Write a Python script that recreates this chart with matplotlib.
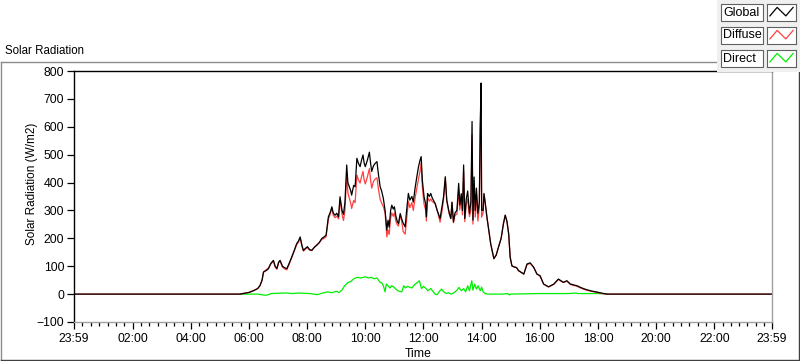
import numpy as np
import matplotlib
matplotlib.use("Agg")
import matplotlib.pyplot as plt
from matplotlib.lines import Line2D
from matplotlib.patches import Rectangle

plt.rcParams['font.family'] = ['Liberation Sans', 'DejaVu Sans']

# time of day in hours (23:59 of previous day = -1/60)
t_rad = [-0.017, 5.69, 5.85, 6.0, 6.15, 6.3, 6.38, 6.45, 6.5, 6.6, 6.67, 6.75, 6.84, 6.9, 6.96,
         7.02, 7.07, 7.15, 7.22, 7.3, 7.38, 7.47, 7.55, 7.64, 7.7, 7.76, 7.82, 7.87, 7.95,
         8.01, 8.08, 8.16, 8.25, 8.33, 8.42, 8.5, 8.58, 8.65, 8.73, 8.8, 8.85, 8.9, 8.96,
         9.02, 9.08, 9.13, 9.2, 9.25, 9.3, 9.36, 9.4, 9.45, 9.5, 9.53, 9.6, 9.65, 9.71, 9.76,
         9.82, 9.87, 9.92, 9.96, 10.0, 10.07, 10.14, 10.18, 10.22, 10.28, 10.34, 10.4, 10.45,
         10.51, 10.56, 10.62, 10.68, 10.74, 10.78, 10.82, 10.87, 10.91, 10.96, 11.0, 11.05,
         11.1, 11.14, 11.2, 11.25, 11.3, 11.37, 11.42, 11.48, 11.53, 11.6, 11.65, 11.71,
         11.77, 11.83, 11.88, 11.92, 11.96, 12.02, 12.07, 12.1, 12.14, 12.2, 12.25, 12.3,
         12.4, 12.47, 12.51, 12.57, 12.63, 12.69, 12.75, 12.8, 12.85, 12.89, 12.94, 12.98,
         13.03, 13.08, 13.15, 13.21, 13.25, 13.3, 13.34, 13.38, 13.42, 13.47, 13.52, 13.58,
         13.63, 13.67, 13.7, 13.74, 13.78, 13.82, 13.87, 13.92, 13.95, 13.98, 14.0, 14.05,
         14.08, 14.12, 14.18, 14.31, 14.42, 14.5, 14.58, 14.67, 14.75, 14.81, 14.87, 14.93,
         14.98, 15.04, 15.1, 15.2, 15.27, 15.33, 15.45, 15.56, 15.67, 15.79, 15.9, 16.01,
         16.13, 16.3, 16.48, 16.64, 16.75, 16.81, 16.93, 17.05, 17.16, 17.28, 17.4, 17.52,
         17.64, 17.78, 17.98, 18.15, 18.31, 23.983]

global_rad = [0, 0, 3, 6, 12, 20, 31, 50, 79, 85, 91, 110, 121, 100, 92,
              115, 121, 100, 95, 91, 110, 133, 155, 181, 190, 205, 175, 157, 165,
              170, 160, 157, 168, 175, 185, 199, 205, 211, 277, 295, 313, 290, 283,
              290, 277, 349, 300, 286, 330, 463, 400, 385, 370, 355, 390, 385, 487, 470,
              457, 480, 499, 470, 457, 480, 509, 470, 440, 460, 469, 475, 430,
              385, 370, 343, 300, 229, 265, 240, 300, 319, 305, 313, 280,
              260, 253, 289, 270, 255, 241, 300, 361, 337, 350, 330, 379,
              420, 457, 480, 493, 409, 349, 325, 277, 361, 350, 361, 345,
              325, 300, 289, 271, 310, 349, 421, 337, 310, 289, 271, 330,
              259, 290, 301, 397, 320, 360, 300, 463, 271, 340, 370, 290,
              330, 619, 265, 420, 300, 380, 290, 330, 595, 757, 301, 300,
              361, 330, 277, 181, 127, 140, 169, 200, 253, 283, 260, 216,
              132, 102, 98, 95, 84, 80, 72, 108, 112, 96, 72, 66,
              36, 26, 36, 54, 46, 42, 48, 36, 33, 30, 24, 19,
              15, 11, 7, 3, 0, 0]

diffuse_rad = [0, 0, 3, 6, 12, 20, 31, 50, 80, 88, 94, 108, 118, 97, 89,
               112, 118, 97, 91, 87, 107, 131, 152, 177, 186, 201, 172, 154, 162,
               167, 158, 156, 169, 177, 185, 196, 200, 205, 269, 289, 308, 283, 274,
               280, 270, 340, 285, 264, 300, 430, 364, 344, 325, 307, 336, 328, 427, 411,
               398, 421, 440, 409, 395, 420, 450, 410, 380, 404, 413, 417, 377,
               340, 327, 313, 292, 205, 230, 214, 272, 291, 279, 291, 262,
               248, 244, 282, 262, 225, 215, 270, 332, 310, 328, 300, 344,
               380, 414, 440, 470, 385, 322, 303, 262, 348, 333, 341, 332,
               325, 302, 284, 258, 292, 339, 415, 335, 305, 286, 271, 328,
               256, 282, 287, 373, 302, 348, 284, 443, 260, 322, 340, 278,
               300, 571, 251, 388, 276, 362, 262, 310, 583, 735, 276, 292,
               357, 328, 277, 181, 127, 140, 169, 200, 253, 283, 262, 214,
               134, 100, 98, 95, 84, 80, 72, 106, 110, 96, 72, 64,
               36, 26, 35, 53, 45, 42, 46, 35, 31, 28, 22, 17,
               13, 10, 6, 2, 0, 0]

t_direct = [5.69, 6.3, 6.55, 6.65, 6.75, 7.0, 7.3, 7.5, 7.7, 7.9, 8.1, 8.35, 8.5, 8.7, 8.85,
            9.0, 9.1, 9.2, 9.29, 9.41, 9.5, 9.59, 9.71, 9.85, 10.0, 10.1, 10.2, 10.3, 10.4,
            10.51, 10.57, 10.62, 10.68, 10.72, 10.78, 10.85, 10.9, 10.97, 11.05, 11.12, 11.18,
            11.25, 11.32, 11.38, 11.45, 11.52, 11.6, 11.7, 11.8, 11.86, 11.93, 12.0, 12.07,
            12.15, 12.25, 12.32, 12.4, 12.47, 12.55, 12.62, 12.7, 12.78, 12.85, 12.95, 13.05,
            13.15, 13.22, 13.3, 13.38, 13.45, 13.52, 13.58, 13.66, 13.7, 13.76, 13.82, 13.88,
            13.95, 14.0, 14.05, 14.12, 14.2, 14.4, 14.7, 14.9, 14.95, 15.0, 15.5, 16.0, 17.0,
            17.25, 17.3, 18.0, 18.3]
direct_rad = [0, 0, -4, -3, 2, 3, 4, 2, 4, 3, 2, -2, 3, 8, 5,
              10, 6, 15, 30, 42, 45, 54, 60, 58, 62, 58, 60, 55, 58,
              42, 40, 30, 8, 36, 30, 22, 30, 26, 18, 12, 10,
              8, 30, 22, 28, 25, 22, 35, 42, 48, 20, 28, 22,
              12, 20, 10, 0, -2, 10, 18, 8, 2, 5, 0, 5,
              14, 24, 12, 20, 8, 30, 12, 48, 14, 36, 18, 30,
              12, 25, 8, 2, 0, 0, 0, 2, -3, 0, 1, 2, 2,
              4, 2, 2, 1]

major_hours = [-1 / 60, 2, 4, 6, 8, 10, 12, 14, 16, 18, 20, 22, 24 - 1 / 60]
major_labels = ['23:59', '02:00', '04:00', '06:00', '08:00', '10:00', '12:00',
                '14:00', '16:00', '18:00', '20:00', '22:00', '23:59']

W, H = 800, 361
fig = plt.figure(figsize=(W / 100, H / 100), dpi=100)
fig.patch.set_facecolor('white')

ax = fig.add_axes([74 / W, 1 - 322 / H, 698 / W, 251 / H])
ax.plot(t_direct, direct_rad, color='#00ee00', lw=0.9)
ax.plot(t_rad, diffuse_rad, color='#ff4040', lw=0.9)
ax.plot(t_rad, global_rad, color='black', lw=0.9)

ax.set_xlim(-1 / 60, 24 - 1 / 60)
ax.set_ylim(-100, 800)
ax.set_yticks(range(-100, 801, 100))
ax.set_xticks(major_hours)
ax.set_xticklabels(major_labels)
minors = []
for a, b in zip(major_hours[:-1], major_hours[1:]):
    minors += list(np.linspace(a, b, 8)[1:-1])
ax.set_xticks(minors, minor=True)
ax.tick_params(axis='both', labelsize=8.8, colors='black', width=0.9)
ax.tick_params(axis='y', length=5, pad=2)
ax.tick_params(axis='x', which='major', length=5, pad=3)
ax.tick_params(axis='x', which='minor', length=3, width=0.9)
for s in ['left', 'top']:
    ax.spines[s].set_color('black')
    ax.spines[s].set_linewidth(1.0)
for s in ['right', 'bottom']:
    ax.spines[s].set_color('#a0a0a0')
    ax.spines[s].set_linewidth(1.0)

fig.text(32 / W, 1 - 184 / H, 'Solar Radiation (W/m2)', rotation=90,
         ha='center', va='center', fontsize=8.5)
fig.text(418 / W, 1 - 354 / H, 'Time', ha='center', va='center', fontsize=8.8)
fig.text(5 / W, 1 - 51 / H, 'Solar Radiation', ha='left', va='center', fontsize=8.3)

# outer frame
fig.add_artist(Line2D([1 / W, 717 / W], [1 - 62 / H] * 2, color='#8c8c8c', lw=1.0))
fig.add_artist(Line2D([1 / W] * 2, [1 - 62 / H, 1 - 359.5 / H], color='#8c8c8c', lw=1.0))
fig.add_artist(Line2D([1 / W, 798.5 / W], [1 - 359.5 / H] * 2, color='#404040', lw=1.0))
fig.add_artist(Line2D([798.5 / W] * 2, [1 - 62 / H, 1 - 359.5 / H], color='#404040', lw=1.0))

# legend panel
fig.add_artist(Rectangle((717 / W, 1 - 72 / H), 83 / W, 72 / H, facecolor='#f0f0f0',
                         edgecolor='none', transform=fig.transFigure, zorder=2))
legend_names = ['Global', 'Diffuse', 'Direct']
legend_colors = ['black', '#ff4040', '#00ee00']
for i, (name, col) in enumerate(zip(legend_names, legend_colors)):
    top = 4 + i * 23
    fig.add_artist(Rectangle((721 / W, 1 - (top + 17) / H), 42 / W, 17 / H, facecolor='white',
                             edgecolor='#606060', lw=0.8, transform=fig.transFigure, zorder=3))
    fig.text(723.5 / W, 1 - (top + 8.5) / H, name, ha='left', va='center', fontsize=9,
             zorder=4)
    sw = fig.add_axes([767 / W, 1 - (top + 17) / H, 29 / W, 17 / H])
    sw.set_zorder(5)
    sw.plot([0.1, 0.35, 0.65, 0.9], [0.3, 0.8, 0.3, 0.8], color=col, lw=0.9)
    sw.set_xlim(0, 1)
    sw.set_ylim(0, 1)
    sw.set_xticks([])
    sw.set_yticks([])
    for s in sw.spines.values():
        s.set_color('#606060')
        s.set_linewidth(0.8)

fig.savefig('out.png', dpi=100)
